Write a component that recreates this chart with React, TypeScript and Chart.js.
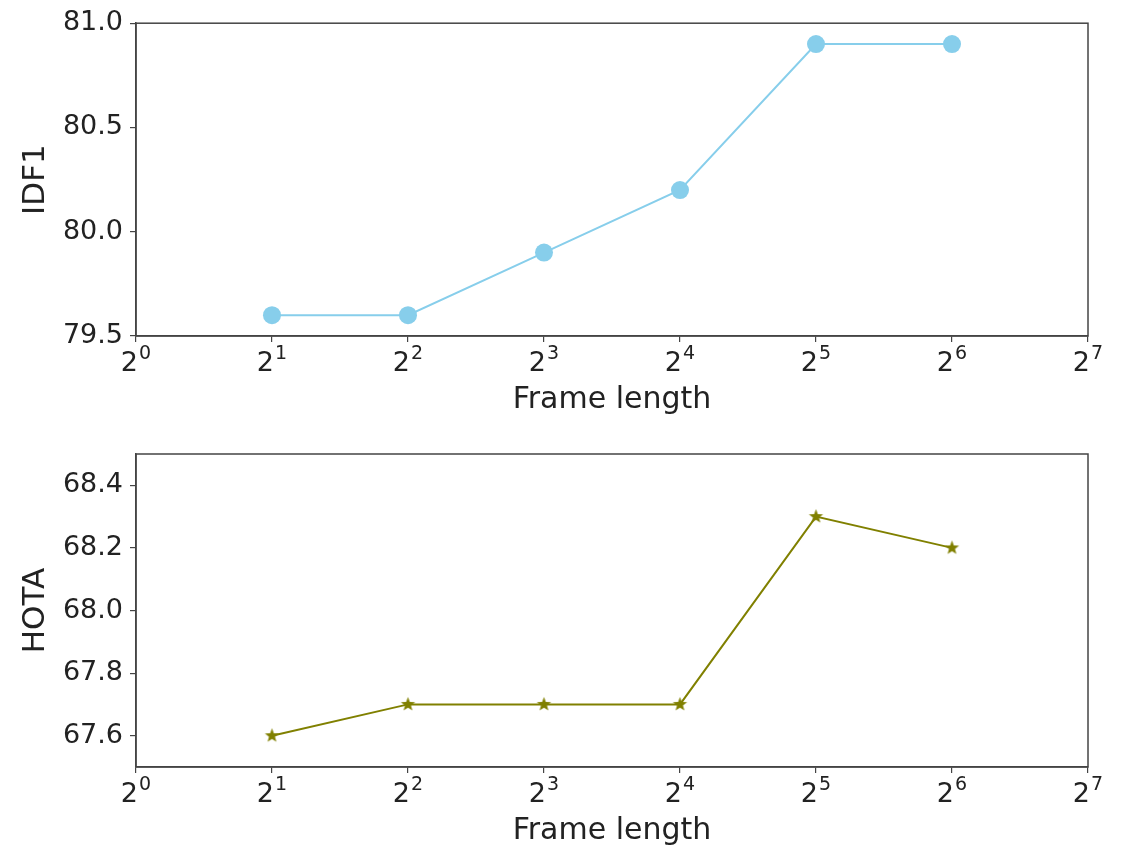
import React, { useEffect, useRef } from "react";
import { Chart, registerables } from "chart.js";

Chart.register(...registerables);

const frameLengths = [2, 4, 8, 16, 32, 64];
const idf1Values = [79.6, 79.6, 79.9, 80.2, 80.9, 80.9];
const hotaValues = [67.6, 67.7, 67.7, 67.7, 68.3, 68.2];
const xTicks = [1, 2, 4, 8, 16, 32, 64, 128];
const idf1Ticks = [79.5, 80.0, 80.5, 81.0];
const hotaTicks = [67.6, 67.8, 68.0, 68.2, 68.4];
const xTitle = "Frame length";

const FONT = "'DejaVu Sans', sans-serif";
const TEXT = "#222";
const AXIS = "#444";

function makeStar(color: string, outer: number): HTMLCanvasElement {
  const size = Math.ceil(outer * 2 + 2);
  const c = document.createElement("canvas");
  c.width = size;
  c.height = size;
  const ctx = c.getContext("2d")!;
  const cx = size / 2;
  const cy = size / 2;
  const inner = outer * 0.42;
  ctx.beginPath();
  for (let i = 0; i < 10; i++) {
    const r = i % 2 === 0 ? outer : inner;
    const a = -Math.PI / 2 + (i * Math.PI) / 5;
    const px = cx + r * Math.cos(a);
    const py = cy + r * Math.sin(a);
    if (i === 0) ctx.moveTo(px, py);
    else ctx.lineTo(px, py);
  }
  ctx.closePath();
  ctx.fillStyle = color;
  ctx.fill();
  return c;
}

const boxPlugin = {
  id: "boxPlugin",
  afterDraw(chart: any) {
    const { ctx, chartArea } = chart;
    ctx.save();
    ctx.strokeStyle = AXIS;
    ctx.lineWidth = 1.5;
    ctx.strokeRect(chartArea.left, chartArea.top, chartArea.right - chartArea.left, chartArea.bottom - chartArea.top);
    // power-of-two tick labels with real superscripts
    const xs = chart.scales.x;
    ctx.fillStyle = TEXT;
    ctx.textBaseline = "alphabetic";
    ctx.textAlign = "left";
    const baseY = xs.top + 35;
    xTicks.forEach((v) => {
      const exp = String(Math.round(Math.log2(v)));
      const px = xs.getPixelForValue(v);
      ctx.font = `27px ${FONT}`;
      const w1 = ctx.measureText("2").width;
      ctx.font = `19px ${FONT}`;
      const w2 = ctx.measureText(exp).width;
      const start = px - (w1 + w2 + 1) / 2;
      ctx.font = `27px ${FONT}`;
      ctx.fillText("2", start, baseY);
      ctx.font = `19px ${FONT}`;
      ctx.fillText(exp, start + w1 + 1, baseY - 12);
    });
    ctx.restore();
  },
};

function buildConfig(
  values: number[],
  yTicks: number[],
  yMin: number,
  yMax: number,
  yTitle: string,
  color: string,
  pointStyle: any,
  pointRadius: number,
  padTop: number,
  xHeight: number,
  xTitlePad: number
): any {
  return {
    type: "line",
    data: {
      datasets: [
        {
          data: frameLengths.map((x, i) => ({ x, y: values[i] })),
          borderColor: color,
          backgroundColor: color,
          borderWidth: 2,
          pointStyle,
          pointRadius,
          pointBorderWidth: 0,
          pointBackgroundColor: color,
          tension: 0,
        },
      ],
    },
    options: {
      responsive: false,
      animation: false,
      devicePixelRatio: 1,
      layout: { padding: { left: 0, right: 39, top: padTop, bottom: 0 } },
      plugins: { legend: { display: false }, tooltip: { enabled: false } },
      scales: {
        x: {
          type: "logarithmic",
          min: 1,
          max: 128,
          afterBuildTicks: (scale: any) => {
            scale.ticks = xTicks.map((v) => ({ value: v }));
          },
          afterFit: (scale: any) => {
            scale.height = xHeight;
          },
          grid: { display: true, drawOnChartArea: false, drawTicks: true, tickLength: 6, color: AXIS, lineWidth: 1.2 },
          border: { display: true, color: AXIS, width: 1.5 },
          ticks: {
            autoSkip: false,
            maxRotation: 0,
            padding: 3,
            color: TEXT,
            font: { family: FONT, size: 27 },
            callback: () => "",
          },
          title: {
            display: true,
            text: xTitle,
            color: TEXT,
            font: { family: FONT, size: 30 },
            padding: { top: 0, bottom: xTitlePad },
          },
        },
        y: {
          type: "linear",
          min: yMin,
          max: yMax,
          afterBuildTicks: (scale: any) => {
            scale.ticks = yTicks.map((v) => ({ value: v }));
          },
          afterFit: (scale: any) => {
            scale.width = 136;
          },
          grid: { display: true, drawOnChartArea: false, drawTicks: true, tickLength: 6, color: AXIS, lineWidth: 1.2 },
          border: { display: true, color: AXIS, width: 1.5 },
          ticks: {
            autoSkip: false,
            padding: 7,
            color: TEXT,
            font: { family: FONT, size: 27 },
            callback: (v: any) => Number(v).toFixed(1),
          },
          title: {
            display: true,
            text: yTitle,
            color: TEXT,
            font: { family: FONT, size: 31 },
            padding: { top: 17, bottom: 0 },
          },
        },
      },
    },
    plugins: [boxPlugin],
  };
}

export default function App() {
  const topRef = useRef<HTMLCanvasElement>(null);
  const botRef = useRef<HTMLCanvasElement>(null);

  useEffect(() => {
    const star = makeStar("#808000", 7.5);
    const c1 = new Chart(
      topRef.current!,
      buildConfig(idf1Values, idf1Ticks, 79.5, 81.0, "IDF1", "#87CEEB", "circle", 9, 22, 89, 7)
    );
    const c2 = new Chart(
      botRef.current!,
      buildConfig(hotaValues, hotaTicks, 67.5, 68.5, "HOTA", "#808000", star, 8, 29, 82, 0)
    );
    return () => {
      c1.destroy();
      c2.destroy();
    };
  }, []);

  return (
    <div style={{ position: "absolute", left: 0, top: 0, width: 1127, height: 849, background: "#fff" }}>
      <canvas ref={topRef} width={1127} height={425} style={{ position: "absolute", left: 0, top: 0 }} />
      <canvas ref={botRef} width={1127} height={424} style={{ position: "absolute", left: 0, top: 425 }} />
    </div>
  );
}
